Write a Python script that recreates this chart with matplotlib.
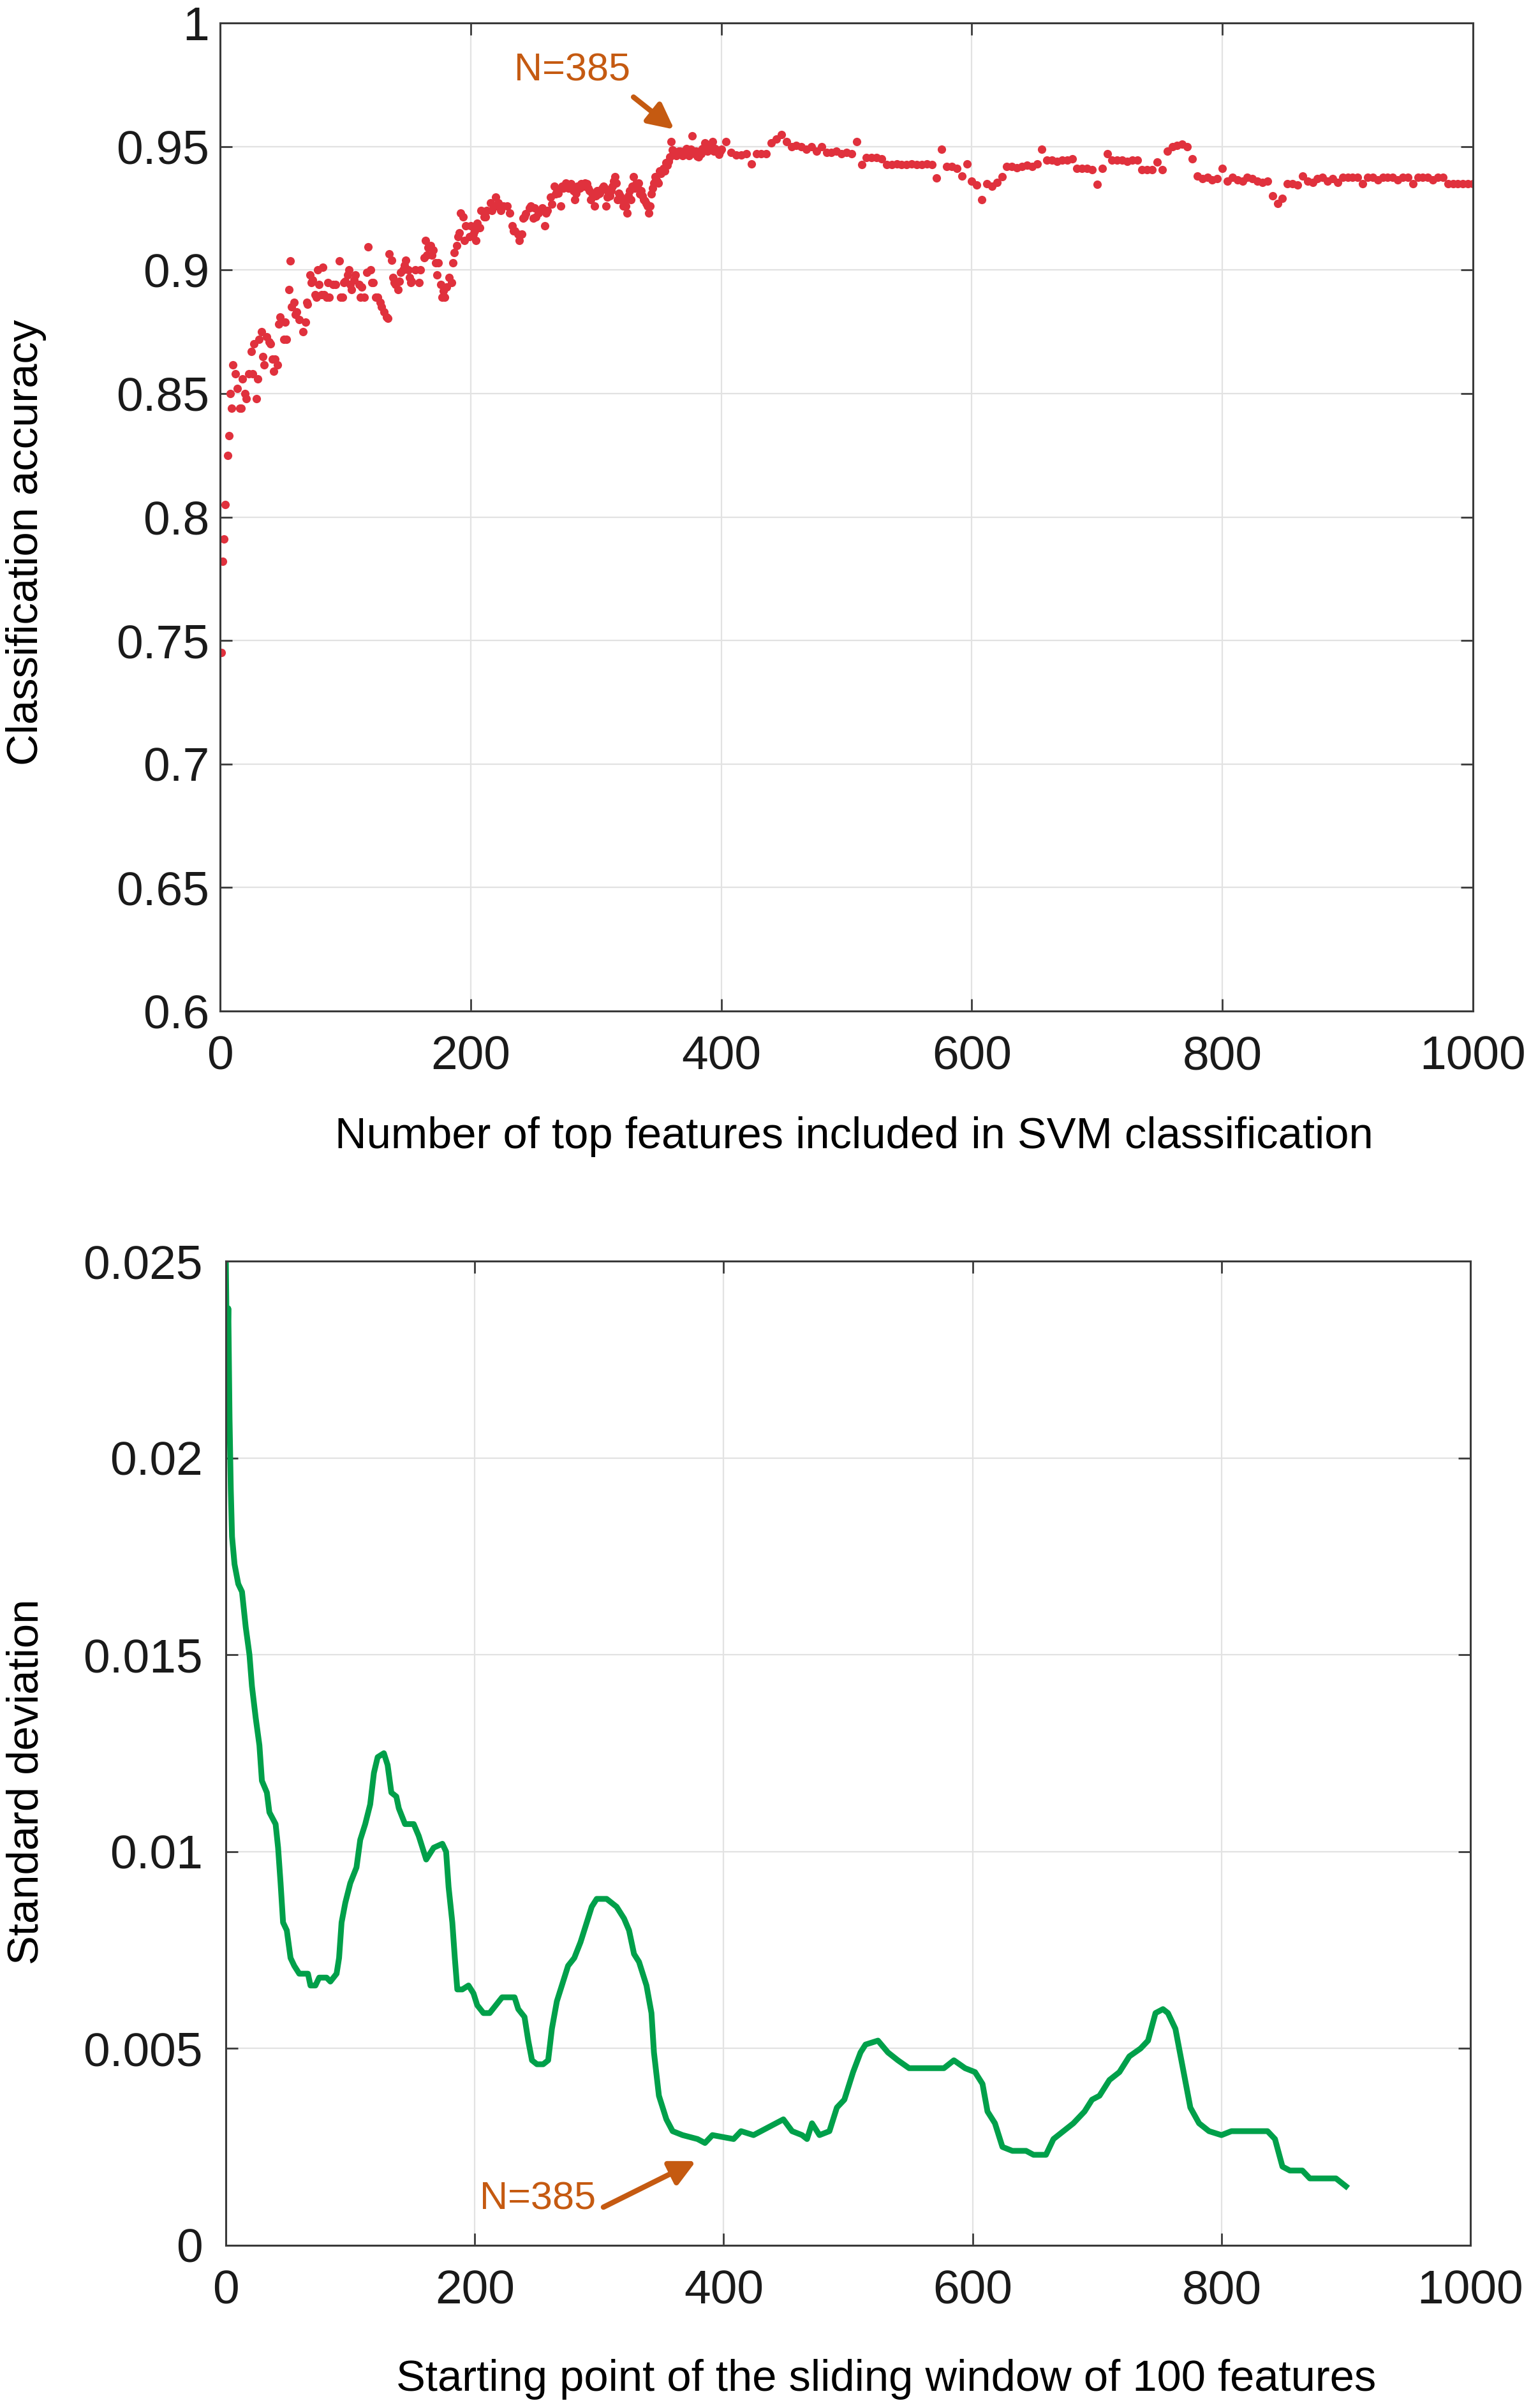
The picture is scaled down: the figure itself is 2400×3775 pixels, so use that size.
import numpy as np
import matplotlib
matplotlib.use('Agg')
import matplotlib.pyplot as plt

plt.rcParams['font.family'] = ['Liberation Sans', 'DejaVu Sans']

# --- top panel: accuracy vs number of top features ---
acc_x_left = [1, 2, 3, 4, 6, 7, 8, 9, 10, 12, 14, 16, 17, 18, 20, 21, 23, 25, 26, 27,
              29, 30, 31, 33, 34, 35, 37, 39, 40, 42, 43, 44, 46, 47, 48, 51, 52, 53, 55, 56,
              57, 59, 60, 61, 63, 66, 68, 69, 70, 72, 73, 74, 76, 77, 78, 79, 81, 82, 83, 85,
              86, 87, 90, 92, 95, 96, 98, 99, 100, 102, 103, 104, 105, 107, 108, 111, 112, 113, 115, 117,
              118, 120, 121, 122, 124, 126, 128, 129, 131, 133, 134, 135, 137, 138, 139, 140, 142, 143, 144, 146,
              147, 148, 150, 151, 152, 153, 156, 159, 160, 163, 164, 165, 166, 168, 169, 170, 172, 173, 174, 176,
              177, 178, 179, 181, 183, 185, 186, 187, 189, 190, 191, 192, 194, 195, 196, 199, 200, 202, 203, 204,
              205, 207, 208, 211, 212, 213, 216, 217, 220, 221, 222, 224, 226, 229, 231, 233, 234, 235, 238, 239,
              241, 242, 243, 244, 247, 248, 250, 251, 252, 254, 256, 257, 259, 260, 261, 264, 265, 267, 268, 269,
              270, 272, 273, 274, 276, 277, 278, 279, 280, 281, 282, 283, 284, 285, 286, 287, 288, 289, 290, 291,
              292, 293, 294, 295, 296, 297, 298, 299, 300, 301, 302, 303, 304, 305, 306, 307, 308, 309, 310, 311,
              312, 313, 314, 315, 316, 317, 318, 319, 320, 321, 322, 323, 324, 325, 326, 327, 328, 329, 330, 331,
              332, 333, 334, 335, 336, 337, 338, 339, 340, 341, 342, 343, 344, 345, 346, 347, 348, 349, 350, 351,
              352, 353, 354, 355, 356, 357, 358, 359, 360, 361, 362, 363, 364, 365, 366, 367, 368, 369, 370, 371,
              372, 373, 374, 375, 376, 377, 378, 379, 380, 381, 382, 383, 384, 385, 386, 387, 388, 389, 390, 391,
              392, 393, 394, 395, 396, 397, 398, 399]
acc_y_left = [0.745, 0.782, 0.791, 0.805, 0.825, 0.833, 0.850, 0.844, 0.8615, 0.858, 0.852, 0.844, 0.844, 0.856, 0.850, 0.848, 0.858, 0.867, 0.858, 0.870,
              0.848, 0.856, 0.872, 0.875, 0.865, 0.8615, 0.873, 0.871, 0.870, 0.864, 0.859, 0.864, 0.8615, 0.878, 0.881, 0.872, 0.879, 0.872, 0.892, 0.9036,
              0.885, 0.887, 0.882, 0.883, 0.880, 0.875, 0.879, 0.887, 0.886, 0.898, 0.895, 0.896, 0.890, 0.889, 0.900, 0.894, 0.890, 0.901, 0.890, 0.889,
              0.895, 0.889, 0.894, 0.894, 0.9036, 0.889, 0.889, 0.895, 0.8955, 0.898, 0.900, 0.894, 0.892, 0.896, 0.898, 0.894, 0.889, 0.893, 0.889, 0.899,
              0.9094, 0.900, 0.895, 0.895, 0.889, 0.889, 0.887, 0.885, 0.883, 0.881, 0.8805, 0.9065, 0.904, 0.897, 0.895, 0.894, 0.892, 0.8955, 0.899, 0.900,
              0.902, 0.904, 0.900, 0.897, 0.895, 0.8955, 0.900, 0.895, 0.900, 0.905, 0.912, 0.906, 0.909, 0.910, 0.906, 0.908, 0.903, 0.898, 0.903, 0.894,
              0.889, 0.8915, 0.889, 0.893, 0.897, 0.895, 0.903, 0.907, 0.910, 0.9135, 0.915, 0.923, 0.9215, 0.912, 0.918, 0.9135, 0.918, 0.9146, 0.9157, 0.912,
              0.919, 0.917, 0.924, 0.9215, 0.9215, 0.924, 0.9273, 0.924, 0.9296, 0.926, 0.9273, 0.924, 0.926, 0.926, 0.923, 0.918, 0.9157, 0.9157, 0.9146, 0.912,
              0.9146, 0.921, 0.9215, 0.9227, 0.925, 0.926, 0.921, 0.925, 0.9215, 0.923, 0.924, 0.925, 0.918, 0.923, 0.924, 0.9296, 0.9267, 0.934, 0.9307, 0.932,
              0.931, 0.926, 0.934, 0.933, 0.9353, 0.934, 0.933, 0.933, 0.935, 0.9336, 0.932, 0.9284, 0.931, 0.934, 0.933, 0.933, 0.935, 0.934, 0.934, 0.9353,
              0.934, 0.935, 0.933, 0.932, 0.9284, 0.931, 0.9307, 0.926, 0.930, 0.932, 0.9307, 0.931, 0.932, 0.933, 0.934, 0.933, 0.926, 0.9296, 0.931, 0.930,
              0.932, 0.934, 0.936, 0.9377, 0.9353, 0.9284, 0.931, 0.930, 0.9284, 0.929, 0.926, 0.928, 0.926, 0.923, 0.930, 0.932, 0.9284, 0.934, 0.9377, 0.933,
              0.935, 0.934, 0.9353, 0.9307, 0.932, 0.930, 0.9284, 0.928, 0.927, 0.926, 0.923, 0.926, 0.9307, 0.933, 0.9353, 0.9377, 0.937, 0.936, 0.9353, 0.940,
              0.939, 0.940, 0.941, 0.940, 0.9434, 0.9423, 0.944, 0.9457, 0.952, 0.9486, 0.948, 0.947, 0.9463, 0.947, 0.948, 0.948, 0.947, 0.9463, 0.948, 0.948,
              0.9492, 0.947, 0.9463, 0.948, 0.949, 0.9544, 0.948, 0.947, 0.948, 0.946, 0.9457, 0.948, 0.947, 0.9492, 0.949, 0.9515, 0.950, 0.948, 0.9492, 0.949,
              0.950, 0.952, 0.948, 0.9492, 0.948, 0.948, 0.9469, 0.948]

# from 400 features on the points form a dense band, read every 4 features
acc_x_right = np.arange(400, 1001, 4)
acc_y_right = [0.949, 0.952, 0.9476, 0.9466, 0.9466, 0.947, 0.943, 0.947, 0.947, 0.947,
               0.9515, 0.953, 0.9549, 0.952, 0.950, 0.9505, 0.950, 0.949, 0.950, 0.948,
               0.950, 0.9475, 0.9475, 0.948, 0.947, 0.9475, 0.947, 0.9519, 0.9428, 0.9454,
               0.9454, 0.9454, 0.945, 0.9428, 0.9428, 0.943, 0.9428, 0.9428, 0.943, 0.9428,
               0.9428, 0.943, 0.9428, 0.9372, 0.9489, 0.942, 0.942, 0.941, 0.938, 0.943,
               0.936, 0.9345, 0.9286, 0.935, 0.934, 0.9355, 0.9377, 0.942, 0.942, 0.9415,
               0.942, 0.9425, 0.942, 0.943, 0.949, 0.9445, 0.9445, 0.944, 0.9445, 0.9445,
               0.945, 0.941, 0.941, 0.941, 0.9405, 0.9347, 0.941, 0.947, 0.9445, 0.9445,
               0.9445, 0.944, 0.9445, 0.9445, 0.9405, 0.9405, 0.9405, 0.9437, 0.9405, 0.948,
               0.950, 0.9505, 0.951, 0.950, 0.945, 0.938, 0.937, 0.9375, 0.9365, 0.937,
               0.941, 0.936, 0.9375, 0.9365, 0.936, 0.9375, 0.937, 0.936, 0.9355, 0.936,
               0.930, 0.927, 0.929, 0.935, 0.935, 0.9345, 0.938, 0.936, 0.9355, 0.937,
               0.9375, 0.936, 0.937, 0.9355, 0.9375, 0.9375, 0.9375, 0.9375, 0.935, 0.9375,
               0.9375, 0.9365, 0.9375, 0.9375, 0.9375, 0.9365, 0.9375, 0.9375, 0.935, 0.9375,
               0.9375, 0.9375, 0.9365, 0.9375, 0.9375, 0.935, 0.935, 0.935, 0.935, 0.935,
               0.935]

# --- bottom panel: std in a sliding window of 100 features ---
std_x = [0, 1, 2, 3, 4, 5, 7, 10, 13, 16, 19, 21, 24, 27, 29, 33, 35, 40, 42, 44,
         46, 49, 52, 55, 59, 66, 68, 72, 75, 81, 84, 89, 91, 93, 96, 100, 105, 108, 112, 116,
         119, 122, 127, 130, 133, 137, 139, 144, 151, 155, 161, 167, 174, 177, 179, 182, 184, 186, 190, 195,
         199, 202, 207, 212, 217, 222, 232, 235, 240, 243, 246, 250, 255, 259, 262, 266, 270, 275, 280, 285,
         290, 294, 298, 302, 306, 314, 320, 324, 328, 332, 338, 342, 344, 348, 354, 359, 367, 379, 385, 391,
         408, 414, 424, 436, 448, 455, 463, 467, 471, 477, 485, 491, 497, 504, 510, 514, 524, 532, 540, 549,
         559, 571, 577, 585, 594, 602, 608, 612, 618, 624, 632, 643, 649, 659, 665, 673, 681, 690, 696, 702,
         710, 718, 726, 735, 741, 747, 753, 757, 763, 769, 775, 782, 790, 800, 808, 820, 837, 843, 849, 855,
         865, 871, 882, 892, 900]
std_y = [0.0251, 0.0222, 0.0238, 0.0210, 0.0192, 0.0180, 0.0173, 0.0168, 0.0166, 0.0157, 0.0150, 0.0142, 0.0134, 0.0127, 0.0118, 0.0115, 0.0110, 0.0107, 0.0101, 0.0092,
         0.0082, 0.0080, 0.0073, 0.0071, 0.0069, 0.0069, 0.0066, 0.0066, 0.0068, 0.0068, 0.0067, 0.0069, 0.0073, 0.0082, 0.0087, 0.0092, 0.0096, 0.0103, 0.0107, 0.0112,
         0.0120, 0.0124, 0.0125, 0.0122, 0.0115, 0.0114, 0.0111, 0.0107, 0.0107, 0.0104, 0.0098, 0.0101, 0.0102, 0.0100, 0.0091, 0.0082, 0.0073, 0.0065, 0.0065, 0.0066,
         0.0064, 0.0061, 0.0059, 0.0059, 0.0061, 0.0063, 0.0063, 0.0060, 0.0058, 0.0052, 0.0047, 0.0046, 0.0046, 0.0047, 0.0055, 0.0062, 0.0066, 0.0071, 0.0073, 0.0077,
         0.0082, 0.0086, 0.0088, 0.0088, 0.0088, 0.0086, 0.0083, 0.0080, 0.0074, 0.0072, 0.0066, 0.0059, 0.0049, 0.0038, 0.0032, 0.0029, 0.0028, 0.0027, 0.0026, 0.0028,
         0.0027, 0.0029, 0.0028, 0.0030, 0.0032, 0.0029, 0.0028, 0.0027, 0.0031, 0.0028, 0.0029, 0.0035, 0.0037, 0.0044, 0.0049, 0.0051, 0.0052, 0.0049, 0.0047, 0.0045,
         0.0045, 0.0045, 0.0045, 0.0047, 0.0045, 0.0044, 0.0041, 0.0034, 0.0031, 0.0025, 0.0024, 0.0024, 0.0023, 0.0023, 0.0027, 0.0029, 0.0031, 0.0034, 0.0037, 0.0038,
         0.0042, 0.0044, 0.0048, 0.0050, 0.0052, 0.0059, 0.0060, 0.0059, 0.0055, 0.0045, 0.0035, 0.0031, 0.0029, 0.0028, 0.0029, 0.0029, 0.0029, 0.0027, 0.0020, 0.0019,
         0.0019, 0.0017, 0.0017, 0.0017, 0.0015]

x_ticks = [0, 200, 400, 600, 800, 1000]
acc_ticks = [0.6, 0.65, 0.7, 0.75, 0.8, 0.85, 0.9, 0.95, 1.0]
acc_labels = ['0.6', '0.65', '0.7', '0.75', '0.8', '0.85', '0.9', '0.95', '1']
std_ticks = [0, 0.005, 0.01, 0.015, 0.02, 0.025]
std_labels = ['0', '0.005', '0.01', '0.015', '0.02', '0.025']

red = '#E0313D'
green = '#00A04A'
orange = '#C55A11'


def style_axes(ax, ypad):
    for s in ax.spines.values():
        s.set_color('#3a3a3a')
        s.set_linewidth(2.2)
    ax.grid(True, color='#e2e2e2', linewidth=1.6)
    ax.set_axisbelow(True)
    ax.tick_params(direction='in', length=14, width=2, top=True, right=True,
                   color='#3a3a3a', labelcolor='#1a1a1a', labelsize=54)
    ax.tick_params(axis='x', pad=27)
    ax.tick_params(axis='y', pad=ypad)


fig = plt.figure(figsize=(24, 37.75), dpi=100)

# Oberes Diagramm
ax1 = fig.add_axes([0.14375, 0.58013, 0.81833, 0.41033])
style_axes(ax1, 12)
ax1.plot(acc_x_left, acc_y_left, 'o', color=red, markersize=9.5, markeredgewidth=0)
ax1.plot(acc_x_right, acc_y_right, 'o', color=red, markersize=9.5, markeredgewidth=0)
ax1.set_xlim(0, 1000)
ax1.set_ylim(0.6, 1.0)
ax1.set_xticks(x_ticks)
ax1.set_yticks(acc_ticks)
ax1.set_yticklabels(acc_labels)
ax1.set_xlabel('Number of top features included in SVM classification', fontsize=49.5)
ax1.set_ylabel('Classification accuracy', fontsize=49.5)
ax1.xaxis.set_label_coords(0.506, -0.127)
ax1.xaxis.label.set_va('center')
ax1.yaxis.set_label_coords(-0.155, 0.4745)
ax1.yaxis.label.set_va('center')
ax1.text(281, 0.9806, 'N=385', color=orange, fontsize=44, ha='center', va='center')
ax1.annotate('', xy=(362.5, 0.9569), xytext=(330, 0.970),
             arrowprops=dict(arrowstyle='-|>', color=orange, lw=6,
                             mutation_scale=60, shrinkA=0, shrinkB=0))

# Unteres Diagramm
ax2 = fig.add_axes([0.1475, 0.06755, 0.8129, 0.40874])
style_axes(ax2, 26)
ax2.plot(std_x, std_y, '-', color=green, linewidth=6.5)
ax2.set_xlim(0, 1000)
ax2.set_ylim(0, 0.025)
ax2.set_xticks(x_ticks)
ax2.set_yticks(std_ticks)
ax2.set_yticklabels(std_labels)
ax2.set_xlabel('Starting point of the sliding window of 100 features', fontsize=49.5)
ax2.set_ylabel('Standard deviation', fontsize=49.5)
ax2.xaxis.set_label_coords(0.5305, -0.136)
ax2.xaxis.label.set_va('center')
ax2.yaxis.set_label_coords(-0.1604, 0.4712)
ax2.yaxis.label.set_va('center')
ax2.text(250.6, 0.00117, 'N=385', color=orange, fontsize=44, ha='center', va='center')
ax2.annotate('', xy=(377.8, 0.00214), xytext=(303.4, 0.00097),
             arrowprops=dict(arrowstyle='-|>', color=orange, lw=6,
                             mutation_scale=60, shrinkA=0, shrinkB=0))

fig.savefig('out.png', dpi=100)
